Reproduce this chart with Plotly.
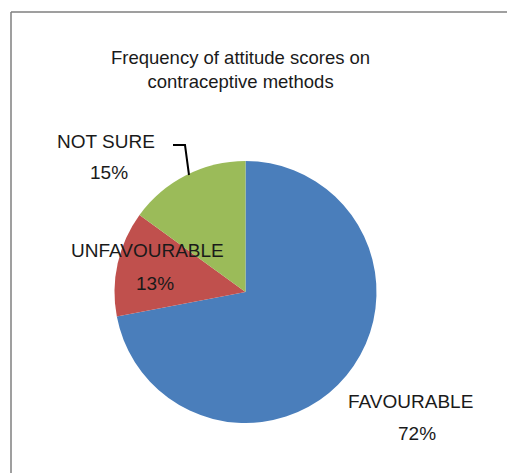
import plotly.graph_objects as go

categories = ["FAVOURABLE", "UNFAVOURABLE", "NOT SURE"]
values = [72, 13, 15]
pct_labels = ["72%", "13%", "15%"]
colors = ["#4A7EBB", "#C0504D", "#9BBB59"]
title_text = "Frequency of attitude scores on<br>contraceptive methods"

W, H = 507, 473
FONT = "Liberation Sans, Arial, sans-serif"

def px(x):
    return x / W

def py(y):
    return 1 - y / H

fig = go.Figure()
fig.add_trace(go.Pie(
    labels=categories,
    values=values,
    sort=False,
    direction="clockwise",
    rotation=0,
    textinfo="none",
    hoverinfo="skip",
    showlegend=False,
    marker=dict(colors=colors, line=dict(width=0)),
    domain=dict(x=[px(245.5 - 131), px(245.5 + 131)], y=[py(423), py(161)]),
))

# label positions (pixel coordinates of name / percent text centres)
label_pos = {
    "FAVOURABLE": ((410, 401), (417, 433)),
    "UNFAVOURABLE": ((147, 250), (155, 283)),
    "NOT SURE": ((106, 141), (109, 173)),
}
annotations = []
for cat, pct in zip(categories, pct_labels):
    (nx, ny), (qx, qy) = label_pos[cat]
    annotations.append(dict(x=px(nx), y=py(ny), xref="paper", yref="paper", text=cat,
                            showarrow=False, xanchor="center", yanchor="middle",
                            font=dict(family=FONT, size=19, color="#1A1A1A")))
    annotations.append(dict(x=px(qx), y=py(qy), xref="paper", yref="paper", text=pct,
                            showarrow=False, xanchor="center", yanchor="middle",
                            font=dict(family=FONT, size=19, color="#1A1A1A")))
annotations.append(dict(x=px(240), y=py(69), xref="paper", yref="paper", text=title_text,
                        showarrow=False, xanchor="center", yanchor="middle", align="center",
                        font=dict(family=FONT, size=18.5, color="#1A1A1A")))

shapes = [
    # frame (top and left edges visible)
    dict(type="line", xref="paper", yref="paper", x0=px(11), y0=py(12), x1=1.01, y1=py(12),
         line=dict(color="#7F7F7F", width=1.5)),
    dict(type="line", xref="paper", yref="paper", x0=px(11), y0=py(12), x1=px(11), y1=-0.01,
         line=dict(color="#7F7F7F", width=1.5)),
    # leader line for NOT SURE
    dict(type="path", xref="paper", yref="paper",
         path=f"M {px(173)},{py(145)} L {px(185)},{py(145)} L {px(189)},{py(175)}",
         line=dict(color="#000000", width=2)),
]

fig.update_layout(
    width=W, height=H,
    margin=dict(l=0, r=0, t=0, b=0),
    paper_bgcolor="white",
    plot_bgcolor="white",
    annotations=annotations,
    shapes=shapes,
)

fig.write_html("out.html")
